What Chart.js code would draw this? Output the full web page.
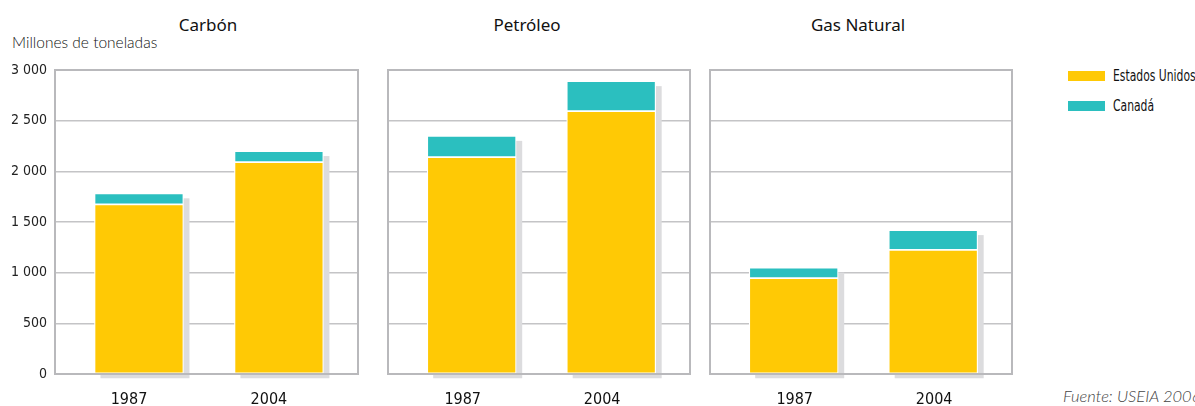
<!DOCTYPE html>
<html>
<head>
<meta charset="utf-8">
<script src="https://cdn.jsdelivr.net/npm/chart.js@4.4.1/dist/chart.umd.min.js"></script>
<style>
  html, body { margin: 0; padding: 0; background: #fff; }
  body { width: 1195px; height: 406px; position: relative; overflow: hidden; }
  canvas { position: absolute; top: 0; }
  .title { position: absolute; top: 13px; font: 400 17px "Noto Sans", sans-serif; color: #111; transform: translateX(-50%); white-space: nowrap; line-height: 24px; }
  .unit { position: absolute; left: 12px; top: 33px; font: 300 15.5px "Lato", sans-serif; color: #111; line-height: 18px; white-space: nowrap; }
  .legend-swatch { position: absolute; left: 1068px; width: 37px; height: 10px; }
  .legend-text { position: absolute; left: 1113px; font: 15px "DejaVu Sans Condensed", "Liberation Sans Narrow", Roboto, sans-serif; color: #111; line-height: 18px; white-space: nowrap; transform: scaleX(0.8); transform-origin: left center; }
  .source { position: absolute; left: 1063px; top: 387px; font: italic 300 16.5px "Lato", sans-serif; color: #444; white-space: nowrap; line-height: 18px; }
</style>
</head>
<body>
<div class="title" style="left:208px">Carbón</div>
<div class="title" style="left:527px">Petróleo</div>
<div class="title" style="left:858px">Gas Natural</div>
<div class="unit">Millones de toneladas</div>

<canvas id="c1" width="368" height="406" style="left:0px"></canvas>
<canvas id="c2" width="322" height="406" style="left:378px"></canvas>
<canvas id="c3" width="322" height="406" style="left:700px"></canvas>

<div class="legend-swatch" style="top:71px;background:#FFC905"></div>
<div class="legend-text" style="top:67px">Estados Unidos</div>
<div class="legend-swatch" style="top:101px;background:#2BBFBF"></div>
<div class="legend-text" style="top:97px">Canadá</div>
<div class="source">Fuente: USEIA 2006</div>

<script>
const years = ['1987', '2004'];

// millones de toneladas, por fuente
const carbonUS = [1675, 2090];
const carbonCA = [108, 110];
const petroleoUS = [2140, 2595];
const petroleoCA = [210, 295];
const gasUS = [945, 1225];
const gasCA = [105, 195];

const YELLOW = '#FFC905';
const TEAL = '#2BBFBF';
const GRID = '#c4c4c6';
const NARROW = '"DejaVu Sans Condensed", "Liberation Sans Narrow", Roboto, sans-serif';

// grey drop shadow behind each stack + box round the plot
const frameAndShadow = {
  id: 'frameAndShadow',
  beforeDatasetsDraw(chart) {
    const ctx = chart.ctx;
    const tops = chart.getDatasetMeta(chart.data.datasets.length - 1).data;
    const bases = chart.getDatasetMeta(0).data;
    ctx.save();
    ctx.fillStyle = '#dcdcde';
    tops.forEach((bar, i) => {
      const w = bar.width;
      ctx.fillRect(bar.x - w / 2 + 6, bar.y + 5, w, bases[i].base - bar.y);
    });
    ctx.restore();
  },
  afterDatasetsDraw(chart) {
    const { left, top, right, bottom } = chart.chartArea;
    const ctx = chart.ctx;
    ctx.save();
    ctx.strokeStyle = '#b9b9bc';
    ctx.lineWidth = 2;
    ctx.strokeRect(left, top, right - left, bottom - top);
    ctx.restore();
  }
};

function toPoints(values) {
  return values.map((v, i) => ({ x: i + 1, y: v }));
}

function thousands(v) {
  return String(v).replace(/\B(?=(\d{3})+(?!\d))/g, ' ');
}

function makePanel(id, us, ca, opts) {
  return new Chart(document.getElementById(id), {
    type: 'bar',
    data: {
      datasets: [
        { label: 'Estados Unidos', data: toPoints(us), backgroundColor: YELLOW },
        { label: 'Canadá', data: toPoints(ca), backgroundColor: TEAL }
      ]
    },
    options: {
      responsive: false,
      animation: false,
      devicePixelRatio: 1,
      layout: { padding: { top: 70, left: opts.padLeft, right: opts.padRight, bottom: 0 } },
      datasets: {
        bar: { grouped: false, barThickness: 89, borderColor: '#ffffff', borderWidth: 1.2, borderSkipped: false }
      },
      plugins: { legend: { display: false }, tooltip: { enabled: false } },
      scales: {
        x: {
          type: 'linear',
          offset: false,
          min: 0.4,
          max: 2.565,
          grid: { display: false, drawTicks: false },
          border: { display: false },
          afterBuildTicks: (scale) => { scale.ticks = years.map((_, i) => ({ value: i + 1 })); },
          afterFit: (scale) => { scale.height = 32; },
          ticks: {
            padding: 16,
            labelOffset: opts.labelOffset,
            color: '#111',
            font: { family: NARROW, size: 16 },
            callback: (v) => years[v - 1]
          }
        },
        y: {
          stacked: true,
          min: 0,
          max: 3000,
          grid: { color: GRID, lineWidth: 1.5, drawTicks: false },
          border: { display: false },
          afterFit: (scale) => { scale.width = opts.axisWidth; },
          ticks: {
            display: opts.showTicks,
            stepSize: 500,
            padding: 8,
            color: '#222',
            font: { family: NARROW, size: 14 },
            callback: (v) => thousands(v)
          }
        }
      }
    },
    plugins: [frameAndShadow]
  });
}

makePanel('c1', carbonUS, carbonCA, { padLeft: 0, padRight: 10, axisWidth: 55, showTicks: true, labelOffset: -10 });
makePanel('c2', petroleoUS, petroleoCA, { padLeft: 10, padRight: 10, axisWidth: 0, showTicks: false, labelOffset: -9 });
makePanel('c3', gasUS, gasCA, { padLeft: 10, padRight: 10, axisWidth: 0, showTicks: false, labelOffset: 1 });
</script>
</body>
</html>
